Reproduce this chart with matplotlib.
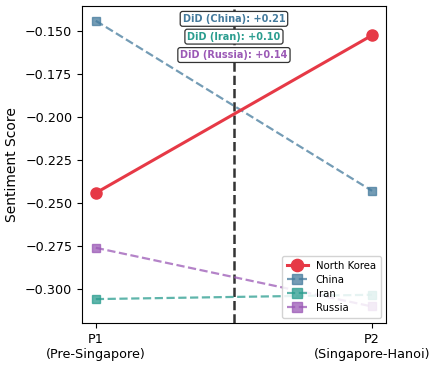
import numpy as np
import matplotlib
matplotlib.use("Agg")
import matplotlib.pyplot as plt

# ------------------ data ------------------
periods = ["P1\n(Pre-Singapore)", "P2\n(Singapore-Hanoi)"]
north_korea = [-0.2441, -0.1525]
china = [-0.1441, -0.2429]
iran = [-0.3058, -0.3033]
russia = [-0.2760, -0.3101]
did_labels = ["DiD (China): +0.21", "DiD (Iran): +0.10", "DiD (Russia): +0.14"]
# ------------------------------------------

C_NK = "#e63946"
C_CN = "#457b9d"
C_IR = "#2a9d8f"
C_RU = "#9b59b6"

x = np.arange(len(periods))

fig = plt.figure(figsize=(4.41, 3.66), dpi=100)
ax = fig.add_axes([0.186, 0.117, 0.689, 0.867])

ax.plot(x, north_korea, "-o", color=C_NK, lw=2.2, ms=8, label="North Korea", zorder=5)
ax.plot(x, china, "--s", color=C_CN, lw=1.6, ms=6, alpha=0.75, label="China")
ax.plot(x, iran, "--s", color=C_IR, lw=1.6, ms=6, alpha=0.75, label="Iran")
ax.plot(x, russia, "--s", color=C_RU, lw=1.6, ms=6, alpha=0.75, label="Russia")

ax.axvline(0.5, color="#333333", ls="--", lw=1.8, zorder=1)

ax.set_xticks(x)
ax.set_xticklabels(periods, fontsize=9.2)
ax.set_xlim(-0.05, 1.05)
ax.set_ylim(-0.3198, -0.1354)
ax.set_yticks([-0.300, -0.275, -0.250, -0.225, -0.200, -0.175, -0.150])
ax.set_yticklabels(["\u22120.300", "\u22120.275", "\u22120.250", "\u22120.225",
                    "\u22120.200", "\u22120.175", "\u22120.150"], fontsize=9.2)
ax.set_ylabel("Sentiment Score", fontsize=10)

# DiD boxes
box_y = [0.959, 0.903, 0.845]
for lab, yy, col in zip(did_labels, box_y, [C_CN, C_IR, C_RU]):
    ax.text(0.5, yy, lab, transform=ax.transAxes, ha="center", va="center",
            fontsize=7, fontweight="bold", color=col,
            bbox=dict(boxstyle="round,pad=0.25", fc="white", ec="#333333", lw=0.9))

ax.legend(loc="lower right", fontsize=7.3, framealpha=0.85, borderpad=0.5,
          handlelength=2.0, labelspacing=0.4, markerscale=1.1)

fig.savefig("out.png", dpi=100)
